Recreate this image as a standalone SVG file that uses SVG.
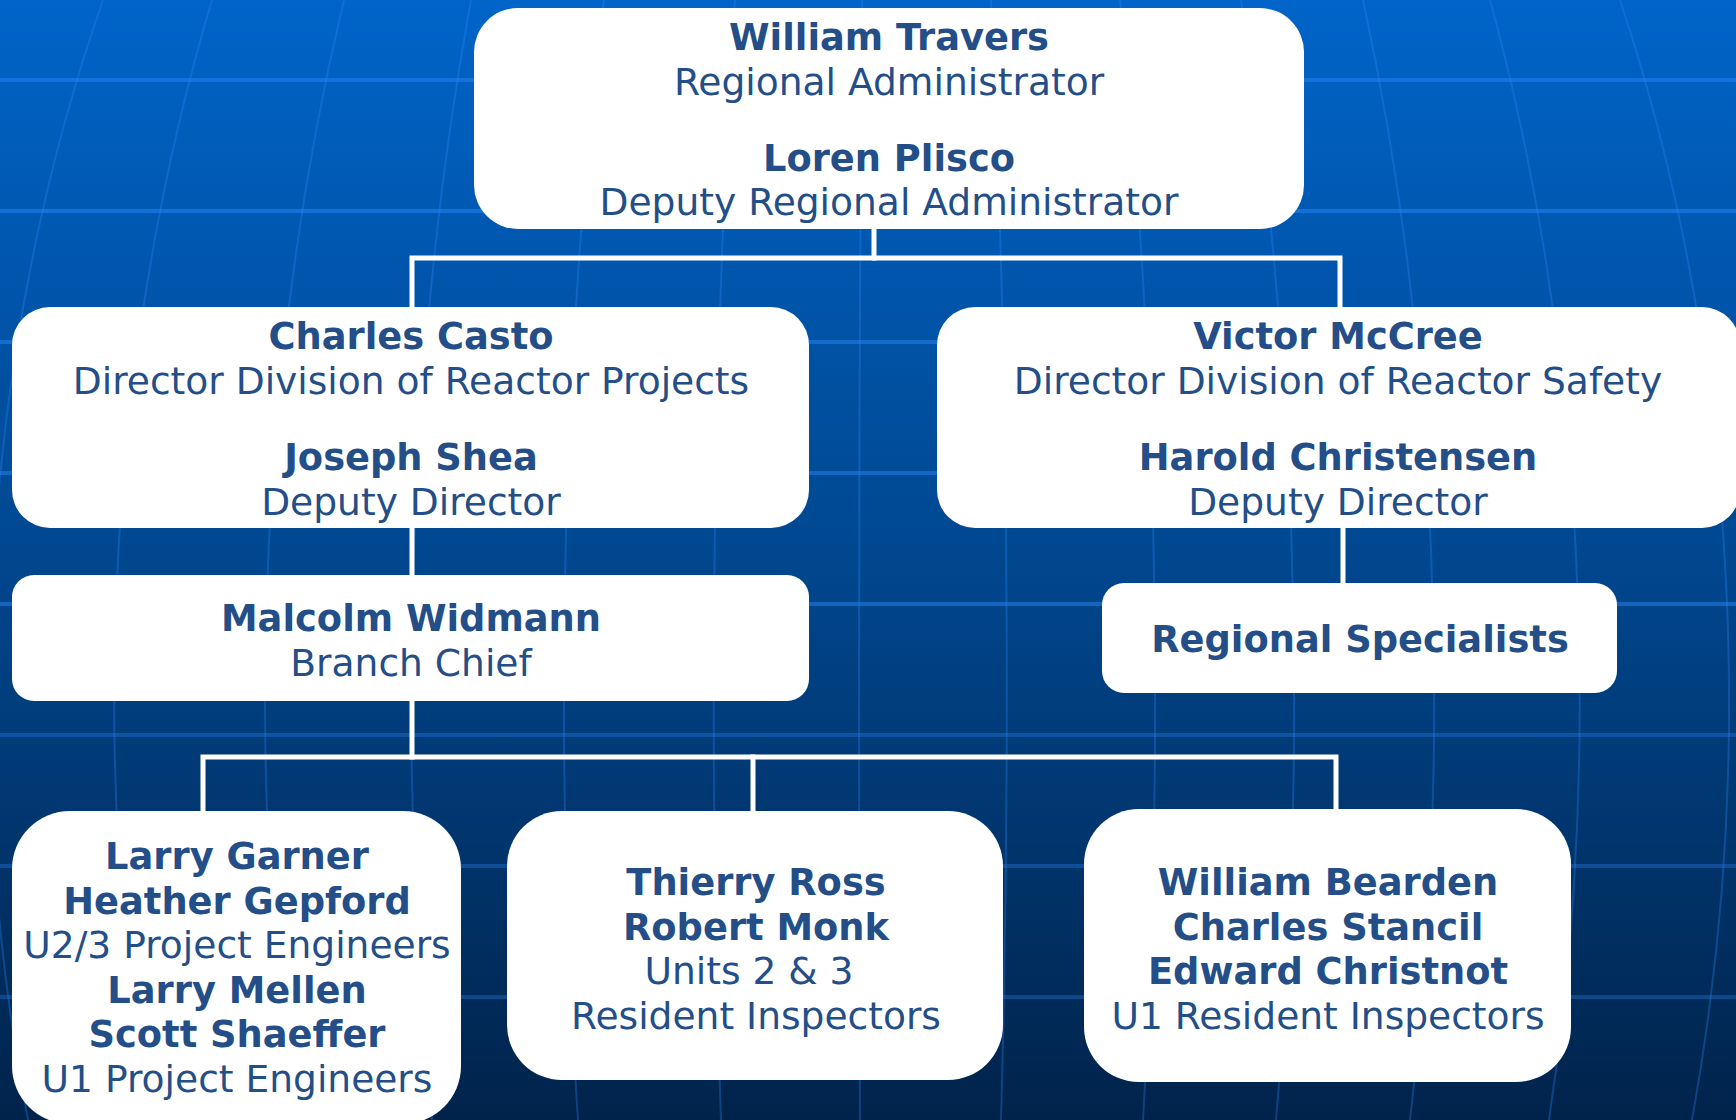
<svg xmlns="http://www.w3.org/2000/svg" width="1736" height="1120" viewBox="0 0 1736 1120">
  <defs>
    <linearGradient id="bg" x1="0" y1="0" x2="0" y2="1">
      <stop offset="0" stop-color="#0064C8"/>
      <stop offset="0.5" stop-color="#00478F"/>
      <stop offset="1" stop-color="#00234B"/>
    </linearGradient>
    <style>
      .box { fill: #FFFFFF; }
      .grid { stroke: #2A8CFF; stroke-opacity: 0.45; stroke-width: 4; fill: none; }
      .grid.low { stroke-opacity: 0.3; }
      .meridian { stroke: #2A8CFF; stroke-opacity: 0.3; stroke-width: 2; fill: none; }
      .link { stroke: #FFFFFF; stroke-width: 5; fill: none; stroke-linecap: square; }
      text { font-family: "DejaVu Sans", Verdana, sans-serif; fill: #234E87; text-anchor: middle; }
      .name { font-weight: bold; font-size: 36.8px; }
      .title { font-size: 37.6px; }
    </style>
  </defs>

  <!-- background: gradient with a faint globe grid -->
  <rect x="0" y="0" width="1736" height="1120" fill="url(#bg)"/>
  <g id="background-grid">
    <line class="grid" x1="0" y1="80" x2="1736" y2="80"/>
    <line class="grid" x1="0" y1="211" x2="1736" y2="211"/>
    <line class="grid" x1="0" y1="342" x2="1736" y2="342"/>
    <line class="grid" x1="0" y1="473" x2="1736" y2="473"/>
    <line class="grid" x1="0" y1="604" x2="1736" y2="604"/>
    <line class="grid low" x1="0" y1="735" x2="1736" y2="735"/>
    <line class="grid low" x1="0" y1="866" x2="1736" y2="866"/>
    <line class="grid low" x1="0" y1="997" x2="1736" y2="997"/>
    <path class="meridian" d="M103 0 A891 1432 0 0 0 28 1120"/>
    <path class="meridian" d="M212 0 A766 1432 0 0 0 148 1120"/>
    <path class="meridian" d="M344 0 A615 1432 0 0 0 292 1120"/>
    <path class="meridian" d="M471 0 A469 1432 0 0 0 432 1120"/>
    <path class="meridian" d="M604 0 A316 1432 0 0 0 578 1120"/>
    <path class="meridian" d="M735 0 A166 1432 0 0 0 721 1120"/>
    <path class="meridian" d="M862 0 A21 1432 0 0 0 860 1120"/>
    <path class="meridian" d="M991 0 A127 1432 0 0 1 1001 1120"/>
    <path class="meridian" d="M1120 0 A275 1432 0 0 1 1143 1120"/>
    <path class="meridian" d="M1241 0 A414 1432 0 0 1 1276 1120"/>
    <path class="meridian" d="M1363 0 A554 1432 0 0 1 1410 1120"/>
    <path class="meridian" d="M1490 0 A700 1432 0 0 1 1549 1120"/>
    <path class="meridian" d="M1620 0 A849 1432 0 0 1 1692 1120"/>
  </g>

  <!-- connectors -->
  <g id="connectors">
    <path class="link" d="M874 229 V258"/>
    <path class="link" d="M412 307 V258 H1340 V307"/>
    <path class="link" d="M412 528 V575"/>
    <path class="link" d="M1343 528 V583"/>
    <path class="link" d="M412 701 V757"/>
    <path class="link" d="M203 811 V757 H1336 V809"/>
    <path class="link" d="M753 757 V811"/>
  </g>

  <!-- nodes -->
  <g id="regional-administrator">
    <rect class="box" x="474" y="8" width="830" height="221" rx="44"/>
    <text class="name" x="889" y="50">William Travers</text>
    <text class="title" x="889" y="94.5">Regional Administrator</text>
    <text class="name" x="889" y="170.5">Loren Plisco</text>
    <text class="title" x="889" y="215">Deputy Regional Administrator</text>
  </g>

  <g id="reactor-projects">
    <rect class="box" x="12" y="307" width="797" height="221" rx="38"/>
    <text class="name" x="411" y="349">Charles Casto</text>
    <text class="title" x="411" y="394">Director Division of Reactor Projects</text>
    <text class="name" x="411" y="470">Joseph Shea</text>
    <text class="title" x="411" y="515">Deputy Director</text>
  </g>

  <g id="reactor-safety">
    <rect class="box" x="937" y="307" width="803" height="221" rx="38"/>
    <text class="name" x="1338" y="349">Victor McCree</text>
    <text class="title" x="1338" y="394">Director Division of Reactor Safety</text>
    <text class="name" x="1338" y="470">Harold Christensen</text>
    <text class="title" x="1338" y="515">Deputy Director</text>
  </g>

  <g id="branch-chief">
    <rect class="box" x="12" y="575" width="797" height="126" rx="22"/>
    <text class="name" x="411" y="631">Malcolm Widmann</text>
    <text class="title" x="411" y="675.5">Branch Chief</text>
  </g>

  <g id="regional-specialists">
    <rect class="box" x="1102" y="583" width="515" height="110" rx="22"/>
    <text class="name" x="1360" y="652">Regional Specialists</text>
  </g>

  <g id="project-engineers">
    <rect class="box" x="12" y="811" width="449" height="313" rx="58"/>
    <text class="name" x="237" y="869">Larry Garner</text>
    <text class="name" x="237" y="913.5">Heather Gepford</text>
    <text class="title" x="237" y="958">U2/3 Project Engineers</text>
    <text class="name" x="237" y="1002.5">Larry Mellen</text>
    <text class="name" x="237" y="1047">Scott Shaeffer</text>
    <text class="title" x="237" y="1091.5">U1 Project Engineers</text>
  </g>

  <g id="units-2-3-inspectors">
    <rect class="box" x="507" y="811" width="496" height="269" rx="55"/>
    <text class="name" x="756" y="895">Thierry Ross</text>
    <text class="name" x="756" y="939.5">Robert Monk</text>
    <text class="title" x="749" y="984">Units 2 &amp; 3</text>
    <text class="title" x="756" y="1028.5">Resident Inspectors</text>
  </g>

  <g id="unit-1-inspectors">
    <rect class="box" x="1084" y="809" width="487" height="273" rx="55"/>
    <text class="name" x="1328" y="895">William Bearden</text>
    <text class="name" x="1328" y="939.5">Charles Stancil</text>
    <text class="name" x="1328" y="984">Edward Christnot</text>
    <text class="title" x="1328" y="1028.5">U1 Resident Inspectors</text>
  </g>
</svg>
